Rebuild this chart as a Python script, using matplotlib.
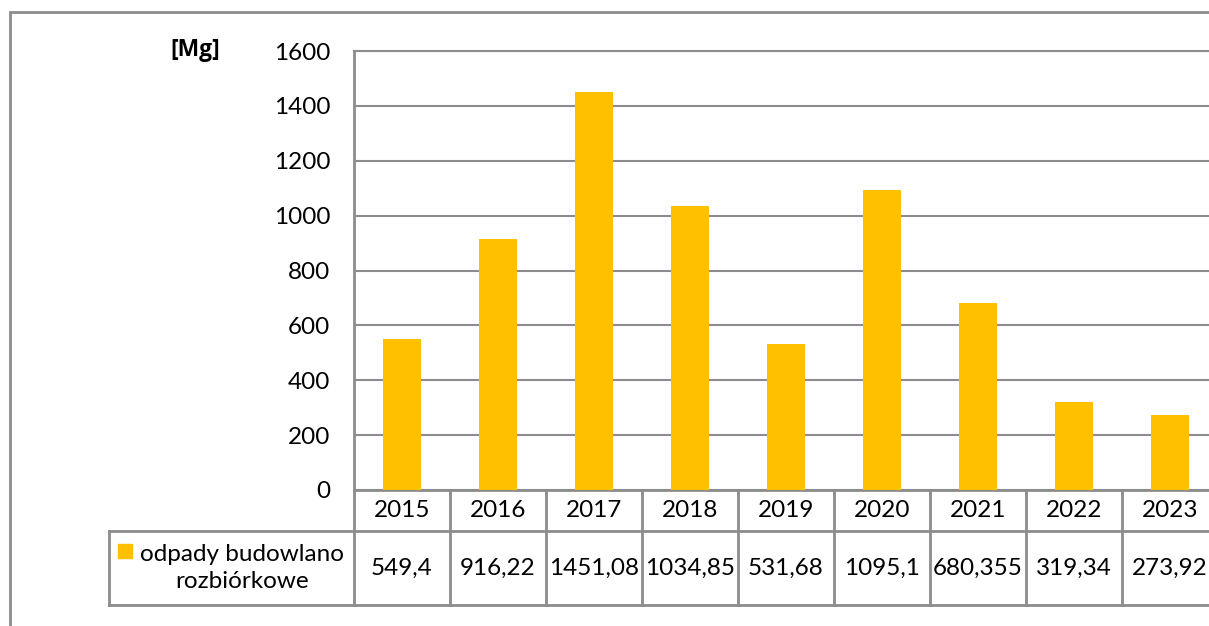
import matplotlib
matplotlib.use("Agg")
import matplotlib.pyplot as plt
from matplotlib.transforms import blended_transform_factory
from matplotlib.lines import Line2D
from matplotlib.patches import Rectangle

# --------------------------------------------------------------------
# data
years = ["2015", "2016", "2017", "2018", "2019", "2020", "2021", "2022", "2023"]
values = [549.4, 916.22, 1451.08, 1034.85, 531.68, 1095.1, 680.355, 319.34, 273.92]
series_name = "odpady budowlano\nrozbiórkowe"
unit_label = "[Mg]"
y_ticks = [0, 200, 400, 600, 800, 1000, 1200, 1400, 1600]

# --------------------------------------------------------------------
# style
bar_color = "#FFC000"
line_color = "#8C8C8C"
font = ["Lato", "DejaVu Sans"]
fs = 17.5
plt.rcParams["font.family"] = font

W, H = 1209, 626
fig = plt.figure(figsize=(W / 100, H / 100), dpi=100)

# outer chart frame (goes past right/bottom edge, like the cropped original)
fig.add_artist(Rectangle((10 / W, -0.05), 1.2, (H - 12) / H + 0.05,
                         transform=fig.transFigure, fill=False,
                         edgecolor=line_color, lw=2))

# plot area in pixels -> figure fraction
left, right, top, bottom = 354, 1218, 51, 490
ax = fig.add_axes([left / W, (H - bottom) / H, (right - left) / W, (bottom - top) / H])

x = list(range(len(years)))
ax.bar(x, values, width=0.4, color=bar_color, zorder=3)
ax.set_xlim(-0.5, len(years) - 0.5)
ax.set_ylim(0, 1600)
ax.set_yticks(y_ticks)
ax.set_yticklabels([str(t) for t in y_ticks], fontsize=fs)
ax.tick_params(axis="y", length=0, pad=17)
ax.set_xticks([])
ax.grid(axis="y", color=line_color, lw=1.5, zorder=0)
for s in ["right", "bottom"]:
    ax.spines[s].set_visible(False)
ax.spines["left"].set_color(line_color)
ax.spines["left"].set_linewidth(2)
ax.spines["top"].set_color(line_color)
ax.spines["top"].set_linewidth(1.5)

fig.text(195 / W, 1 - 50 / H, unit_label, fontsize=fs - 1, fontweight="bold",
         family=["Open Sans", "DejaVu Sans"], ha="center", va="center")

# --------------------------------------------------------------------
# data table under the axis
ph = bottom - top
row1 = -41 / ph     # bottom of year row (axes fraction)
row2 = -115 / ph    # bottom of value row
leg_left = -((left - 109) / (right - left)) * len(years) - 0.5   # in data x

tr = blended_transform_factory(ax.transData, ax.transAxes)
lk = dict(transform=tr, color=line_color, lw=2, clip_on=False)

ax.add_line(Line2D([-0.5, len(years) - 0.5], [0, 0], **lk))
ax.add_line(Line2D([leg_left, len(years) - 0.5], [row1, row1], **lk))
ax.add_line(Line2D([leg_left, len(years) - 0.5], [row2, row2], **lk))
ax.add_line(Line2D([leg_left, leg_left], [row1, row2], **lk))
for i in range(len(years) + 1):
    ax.add_line(Line2D([i - 0.5, i - 0.5], [0, row2], **lk))

for i, (yr, v) in enumerate(zip(years, values)):
    ax.text(i, row1 / 2, yr, transform=tr, ha="center", va="center", fontsize=fs)
    lbl = ("%g" % v).replace(".", ",")
    ax.text(i, (row1 + row2) / 2, lbl, transform=tr, ha="center", va="center", fontsize=fs)

# legend cell
leg_cx = leg_left + ((-0.5) - leg_left) / 2
ax.text(leg_cx + 0.11, (row1 + row2) / 2, series_name, transform=tr, ha="center",
        va="center", multialignment="center", fontsize=fs, linespacing=1.3)
sq_x = leg_left + (125 - 109) / (right - left) * len(years)
ax.plot([sq_x], [row1 - 20 / ph], marker="s", markersize=10.5, color=bar_color,
        transform=tr, clip_on=False, linestyle="none")

fig.savefig("out.png", dpi=100)
